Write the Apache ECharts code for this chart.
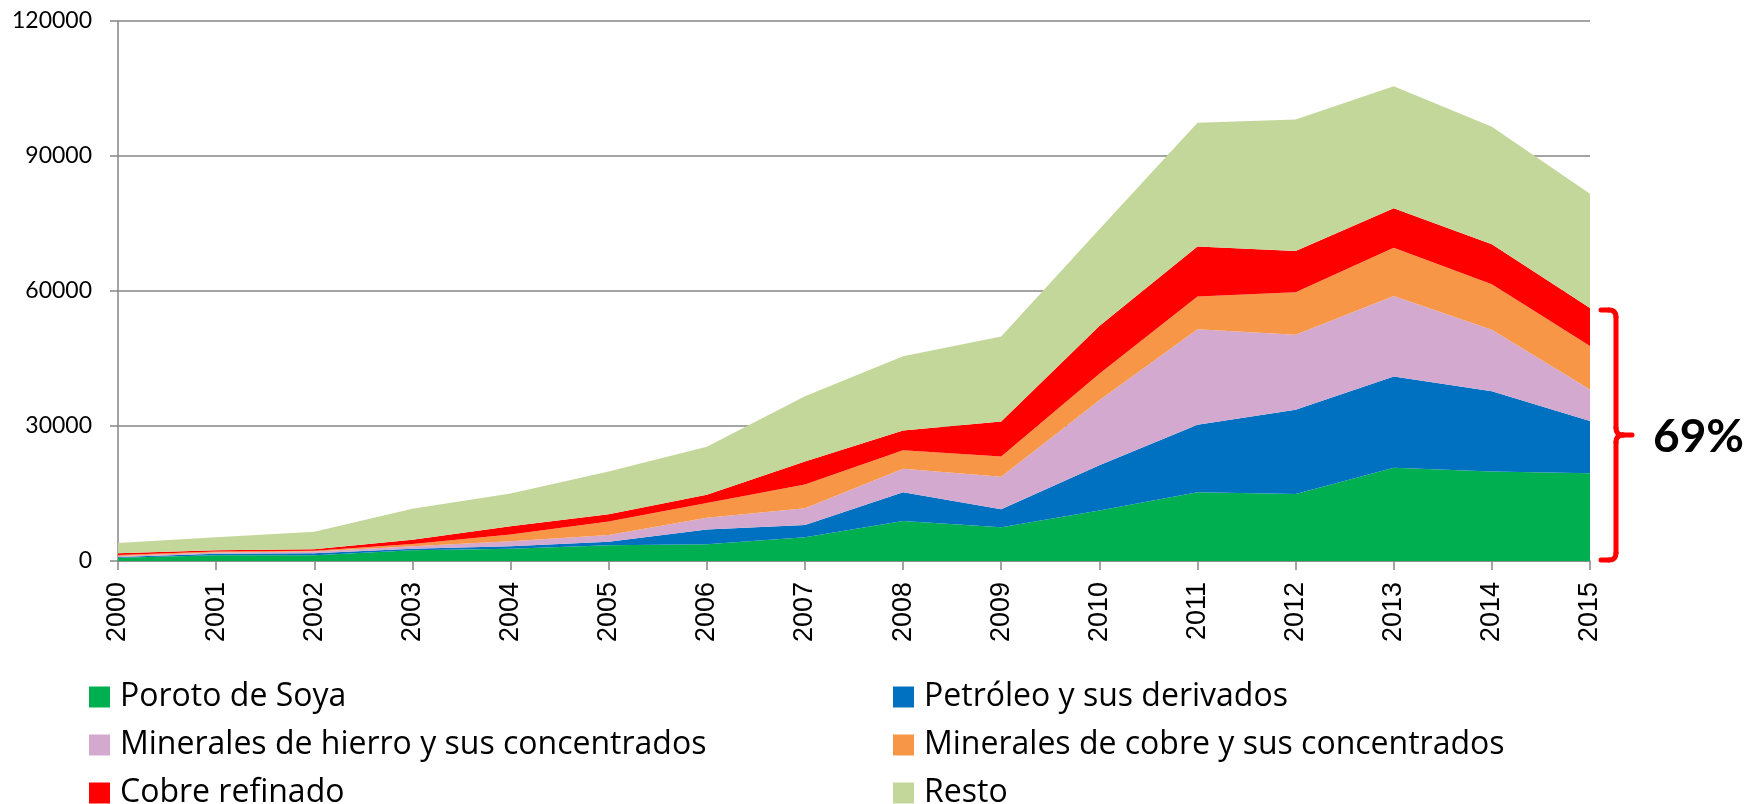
<!DOCTYPE html>
<html>
<head>
<meta charset="utf-8">
<script src="https://cdn.jsdelivr.net/npm/echarts@6/dist/echarts.min.js"></script>
<style>
html,body{margin:0;padding:0;background:#fff;}
#chart{width:1750px;height:804px;}
</style>
</head>
<body>
<div id="chart"></div>
<script>
const years = ['2000','2001','2002','2003','2004','2005','2006','2007','2008','2009','2010','2011','2012','2013','2014','2015'];
const yTicks = [0, 30000, 60000, 90000, 120000];
const soya      = [700, 1300, 1300, 2400, 2700, 3500, 3700, 5300, 8900, 7500, 11200, 15300, 14900, 20700, 19900, 19500];
const petroleo  = [200, 300, 400, 300, 600, 800, 3300, 2700, 6400, 4000, 10100, 15000, 18700, 20300, 17800, 11600];
const hierro    = [200, 300, 400, 600, 1100, 1500, 2600, 3700, 5200, 7200, 14400, 21200, 16700, 17900, 13700, 7000];
const cobreMin  = [250, 200, 200, 500, 1500, 3000, 3300, 5300, 4100, 4500, 5900, 7300, 9400, 10700, 10100, 9700];
const cobreRef  = [350, 300, 300, 900, 1800, 1600, 1850, 5100, 4400, 7800, 10600, 11100, 9200, 8800, 8900, 8400];
const resto     = [2300, 2900, 3900, 6900, 7300, 9500, 10650, 14500, 16500, 18900, 21500, 27500, 29200, 27100, 26100, 25400];
const names = ['Poroto de Soya','Petróleo y sus derivados','Minerales de hierro y sus concentrados','Minerales de cobre y sus concentrados','Cobre refinado','Resto'];
const colors = ['#00B050','#0070C0','#D3A9CF','#F79646','#FF0000','#C4D79B'];
const seriesData = [soya, petroleo, hierro, cobreMin, cobreRef, resto];
const shareLabel = '69%';

const chart = echarts.init(document.getElementById('chart'), null, {renderer:'canvas'});
const axisGray = '#868686';
const legendText = {color:'#000', fontFamily:'Open Sans', fontSize:32, lineHeight:21, padding:[0,0,0,5]};

// legend placement: two columns, three rows
const legendPos = [[89,681],[893,681],[89,729],[893,729],[89,777],[893,777]];
const legends = names.map(function(n, i){
  return {data:[n], orient:'horizontal', left:legendPos[i][0], top:legendPos[i][1], padding:0,
    itemWidth:21, itemHeight:21, icon:'rect', textStyle:legendText, selectedMode:false};
});

const option = {
  animation:false,
  color: colors,
  grid:{left:118, right:160, top:21, bottom:243, containLabel:false},
  xAxis:{
    type:'category', data:years, boundaryGap:false,
    axisLine:{show:true, lineStyle:{color:axisGray, width:1.5}},
    axisTick:{show:true, length:9, lineStyle:{color:axisGray, width:1.5}},
    axisLabel:{rotate:90, margin:21, color:'#000', fontFamily:'Liberation Sans', fontSize:27, interval:0},
    splitLine:{show:false}
  },
  yAxis:{
    type:'value', min:0, max:120000, interval:30000,
    axisLine:{show:true, lineStyle:{color:axisGray, width:1.5}},
    axisTick:{show:true, length:8, lineStyle:{color:axisGray, width:1.5}},
    axisLabel:{margin:26, color:'#000', fontFamily:'Lato', fontSize:23,
      formatter:function(v){ return yTicks.indexOf(v) >= 0 ? String(v) : ''; }},
    splitLine:{show:true, lineStyle:{color:axisGray, width:1.5}}
  },
  legend: legends,
  series: seriesData.map(function(d, i){
    return {
      name:names[i], type:'line', stack:'total', data:d,
      symbol:'none', lineStyle:{width:0}, areaStyle:{color:colors[i], opacity:1},
      itemStyle:{color:colors[i]}, emphasis:{disabled:true}, silent:true, z:2
    };
  })
};
chart.setOption(option);

// bracket annotation anchored to data via the chart's scales
const last = years.length - 1;
const stackTop = soya[last] + petroleo[last] + hierro[last] + cobreMin[last] + cobreRef[last];
const pTop = chart.convertToPixel({gridIndex:0}, [last, stackTop]);
const pBot = chart.convertToPixel({gridIndex:0}, [last, 0]);
const xe = pTop[0], yT = pTop[1] + 2, yB = pBot[1] - 1, yM = (yT + yB) / 2;
const x0 = xe + 11, xv = xe + 26, xt = xe + 42, r = 7;
const st = {stroke:'#FF0000', lineWidth:5, fill:null, lineCap:'round'};
function ln(a,b,c,d){ return {type:'line', shape:{x1:a,y1:b,x2:c,y2:d}, style:st, silent:true}; }
function qc(a,b,cx,cy,c,d){ return {type:'bezierCurve', shape:{x1:a,y1:b,cpx1:cx,cpy1:cy,x2:c,y2:d}, style:st, silent:true}; }
chart.setOption({
  graphic:[
    ln(x0, yT, xv - r, yT),
    qc(xv - r, yT, xv, yT, xv, yT + r),
    ln(xv, yT + r, xv, yM - r),
    qc(xv, yM - r, xv, yM, xv + r, yM),
    ln(xv + r, yM, xt, yM),
    qc(xv + r, yM, xv, yM, xv, yM + r),
    ln(xv, yM + r, xv, yB - r),
    qc(xv, yB - r, xv, yB, xv - r, yB),
    ln(xv - r, yB, x0, yB),
    {type:'text', x:xe + 63, y:yM + 2, style:{text:shareLabel, fill:'#000', font:'bold 46px Lato', verticalAlign:'middle', align:'left'}, silent:true}
  ]
});
</script>
</body>
</html>
